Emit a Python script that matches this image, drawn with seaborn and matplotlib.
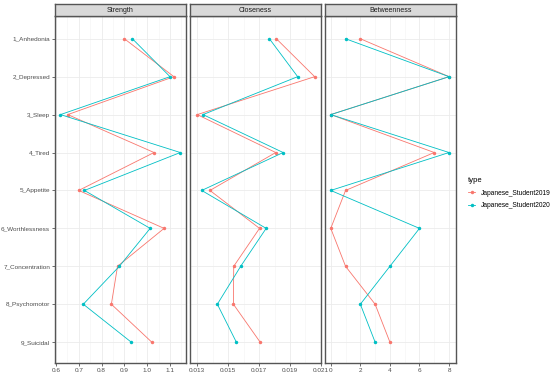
import matplotlib
matplotlib.use("Agg")
import matplotlib.pyplot as plt
from matplotlib.ticker import MultipleLocator, FuncFormatter
import seaborn as sns
import pandas as pd

symptoms = ['1_Anhedonia', '2_Depressed', '3_Sleep', '4_Tired', '5_Appetite',
            '6_Worthlessness', '7_Concentration', '8_Psychomotor', '9_Suicidal']
groups = ['Japanese_Student2019', 'Japanese_Student2020']

strength_2019 = [0.90, 1.117, 0.652, 1.03, 0.70, 1.074, 0.870, 0.843, 1.02]
strength_2020 = [0.935, 1.100, 0.620, 1.145, 0.725, 1.013, 0.878, 0.720, 0.93]
closeness_2019 = [0.01812, 0.02060, 0.01300, 0.01808, 0.01382, 0.01703, 0.01536, 0.01534, 0.01707]
closeness_2020 = [0.01767, 0.01950, 0.01337, 0.01856, 0.01329, 0.01746, 0.01581, 0.01430, 0.01553]
betweenness_2019 = [2, 8, 0, 7, 1, 0, 1, 3, 4]
betweenness_2020 = [1, 8, 0, 8, 0, 6, 4, 2, 3]

rows = []
for measure, v19, v20 in [('Strength', strength_2019, strength_2020),
                          ('Closeness', closeness_2019, closeness_2020),
                          ('Betweenness', betweenness_2019, betweenness_2020)]:
    for s, a, b in zip(symptoms, v19, v20):
        rows.append({'measure': measure, 'node': s, 'type': groups[0], 'value': a})
        rows.append({'measure': measure, 'node': s, 'type': groups[1], 'value': b})
df = pd.DataFrame(rows)

palette = {groups[0]: '#F8766D', groups[1]: '#00BFC4'}

plt.rcParams['font.family'] = ['Liberation Sans', 'DejaVu Sans']

W, H = 550, 379
fig = plt.figure(figsize=(W / 100, H / 100), dpi=100)

def px_axes(x0, y0, x1, y1):
    return fig.add_axes([x0 / W, 1 - y1 / H, (x1 - x0) / W, (y1 - y0) / H])

# name, left px, right px, xlim, major step, major offset, minor step, label format
panels = [
    ('Strength', 55, 186, (0.596, 1.17), 0.1, 0.0, 0.05, '{:.1f}'),
    ('Closeness', 190, 321, (0.01253, 0.02101), 0.002, 0.001, 0.001, '{:.3f}'),
    ('Betweenness', 325, 456, (-0.39, 8.47), 2, 0, 1, '{:.0f}'),
]
top, bottom, strip_top = 16, 363, 4

for i, (measure, x0, x1, xlim, major, off, minor, fmt) in enumerate(panels):
    ax = px_axes(x0, top, x1, bottom)
    sub = df[df['measure'] == measure]
    sns.lineplot(data=sub, x='value', y='node', hue='type', palette=palette,
                 sort=False, orient='y', estimator=None, linewidth=0.6,
                 marker='o', markersize=2.5, markeredgewidth=0, ax=ax, legend=False)
    ax.set_ylim(len(symptoms) - 0.45, -0.6)
    ax.set_xlim(*xlim)
    ax.xaxis.set_major_locator(MultipleLocator(major, offset=off))
    ax.xaxis.set_minor_locator(MultipleLocator(minor))
    ax.xaxis.set_major_formatter(FuncFormatter(lambda v, p, f=fmt: f.format(v)))
    ax.grid(True, which='major', color='#EBEBEB', linewidth=0.6)
    ax.grid(True, which='minor', axis='x', color='#F4F4F4', linewidth=0.4)
    ax.set_axisbelow(True)
    ax.set_xlabel('')
    ax.set_ylabel('')
    ax.tick_params(axis='both', which='major', labelsize=4.6, length=2, width=0.5,
                   color='#333333', labelcolor='#4D4D4D', pad=1.5)
    ax.tick_params(axis='x', which='minor', length=0)
    if i > 0:
        ax.tick_params(axis='y', length=0, labelleft=False)
    for sp in ax.spines.values():
        sp.set_color('#555555')
        sp.set_linewidth(1.0)
    # facet strip
    st = px_axes(x0, strip_top, x1, top)
    st.set_facecolor('#D9D9D9')
    st.set_xticks([])
    st.set_yticks([])
    for sp in st.spines.values():
        sp.set_color('#555555')
        sp.set_linewidth(1.0)
    st.text(0.5, 0.5, measure, ha='center', va='center', fontsize=5, color='#1A1A1A',
            transform=st.transAxes)

handles = [plt.Line2D([], [], color=palette[g], marker='o', markersize=2.5,
                      markeredgewidth=0, linewidth=0.6) for g in groups]
fig.legend(handles, groups, title='type', loc='upper left',
           bbox_to_anchor=(465 / W, 1 - 174 / H), frameon=False, fontsize=4.8,
           title_fontsize=5.5, handlelength=1.0, handletextpad=0.9, labelspacing=0.8,
           alignment='left', borderpad=0)

fig.savefig('out.png', dpi=100, facecolor='white')
